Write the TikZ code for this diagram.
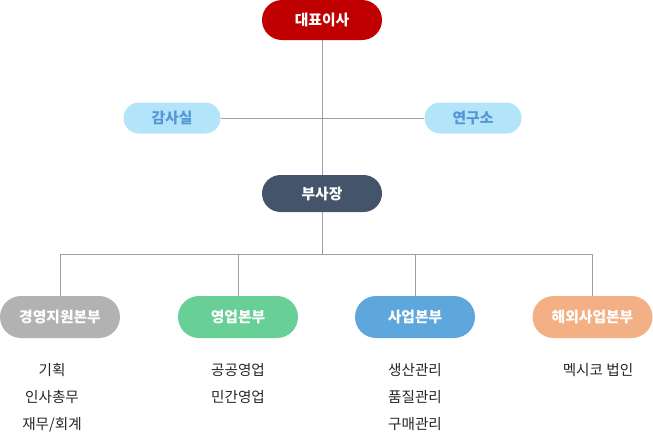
\documentclass[tikz,border=0pt]{standalone}
\usepackage{fontspec}
\setmainfont{Noto Sans CJK KR}
\usepackage{tikz}
\definecolor{ceored}{RGB}{192,0,0}
\definecolor{staffbg}{RGB}{178,229,250}
\definecolor{stafftx}{RGB}{86,150,214}
\definecolor{vpslate}{RGB}{68,84,106}
\definecolor{mgmtgray}{RGB}{178,178,178}
\definecolor{salesgreen}{RGB}{104,207,150}
\definecolor{bizblue}{RGB}{94,167,220}
\definecolor{overseas}{RGB}{243,176,132}
\definecolor{linkgray}{RGB}{160,160,160}
\pgfkeys{tikz/pill/.style={rectangle, inner sep=0pt, text=white,
                           font=\fontsize{14.8}{16}\selectfont\bfseries}}
\pgfkeys{tikz/staffpill/.style={pill, fill=staffbg, text=stafftx,
                           minimum width=97pt, minimum height=31pt, rounded corners=15.5pt}}
\pgfkeys{tikz/divpill/.style={pill, minimum width=120pt, minimum height=42pt, rounded corners=21pt}}
\pgfkeys{tikz/teams/.style={align=center, text=black!85, inner sep=0pt,
                           font=\fontsize{14.6}{27}\selectfont}}
\pgfkeys{tikz/link/.style={draw=linkgray, line width=1pt}}

\begin{document}
\begin{tikzpicture}[x=1pt, y=-1pt]
                \useasboundingbox (0,0) rectangle (653,437);

                \node[pill, fill=ceored, minimum width=120pt, minimum height=40pt, rounded corners=20pt] (ceo) at (322, 20) {대표이사};
                \node[staffpill] (audit) at (172, 118) {감사실};
                \node[staffpill] (lab) at (473, 118) {연구소};
                \node[pill, fill=vpslate, minimum width=120pt, minimum height=37pt, rounded corners=18.5pt] (vp) at (322, 193.5) {부사장};

                \draw[link] (audit) -- (lab);
                \draw[link] (ceo) -- (vp);

                \node[divpill, fill=mgmtgray] (d1) at (60, 317) {경영지원본부};
                \node[divpill, fill=salesgreen] (d2) at (238, 317) {영업본부};
                \node[divpill, fill=bizblue] (d3) at (415, 317) {사업본부};
                \node[divpill, fill=overseas] (d4) at (592.5, 317) {해외사업본부};

                \coordinate (bus) at (322, 254);
                \draw[link] (vp) -- (bus);
                \draw[link] (d1) |- (bus);
                \draw[link] (d2) |- (bus);
                \draw[link] (d3) |- (bus);
                \draw[link] (d4) |- (bus);

                \node[teams, anchor=north] (t1) at (52, 363) {기획\\인사총무\\재무/회계};
                \node[teams, anchor=north] (t2) at (238, 363) {공공영업\\민간영업};
                \node[teams, anchor=north] (t3) at (415, 363) {생산관리\\품질관리\\구매관리};
                \node[teams, anchor=north] (t4) at (598, 363) {멕시코 법인};

            \end{tikzpicture}
\end{document}
